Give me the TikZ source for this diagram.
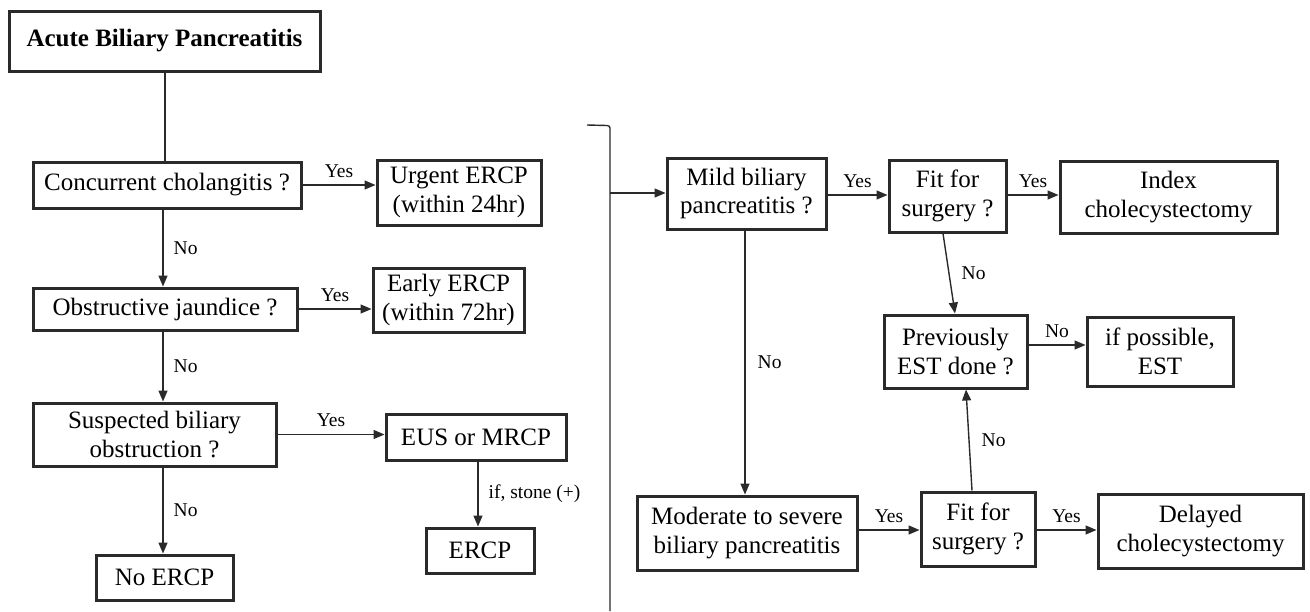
\documentclass[tikz,border=0pt]{standalone}
\usepackage{fontspec}
\setmainfont{Liberation Serif}
\usetikzlibrary{arrows.meta}
\definecolor{ink}{HTML}{2A2A2A}
\tikzset{
  x=1pt,y=-1pt,
  box/.style={draw=ink,line width=3pt,align=center,inner sep=0pt,
    font=\fontsize{25}{28.5}\selectfont},
  conn/.style={draw=ink,line width=1.4pt,-{Triangle[length=11pt,width=9pt]}},
  plain/.style={draw=ink,line width=1.4pt},
  lbl/.style={font=\fontsize{19.5}{22}\selectfont,inner sep=0pt},
}
\newcommand{\bx}[5]{\node[box,minimum width=#3pt,minimum height=#4pt] (#1) at (#2) {#5};}
\begin{document}
\begin{tikzpicture}
\useasboundingbox (0,0) rectangle (1310,611);
% left column
\bx{title}{164.5,41}{311}{60}{\textbf{Acute Biliary Pancreatitis}}
\bx{cc}{167,185}{268}{46}{Concurrent cholangitis ?}
\bx{urg}{459,192.5}{164}{65}{Urgent ERCP\\(within 24hr)}
\bx{oj}{165,309}{264}{42}{Obstructive jaundice ?}
\bx{early}{448.5,300}{151}{64}{Early ERCP\\(within 72hr)}
\bx{sbo}{154.5,434.5}{243}{63}{Suspected biliary\\obstruction ?}
\bx{eus}{476,437}{180}{46}{EUS or MRCP}
\bx{ercp}{480,550.5}{108}{45}{ERCP}
\bx{noercp}{164.5,577.5}{137}{45}{No ERCP}
% right part
\bx{mild}{746.5,193.5}{159}{71}{Mild biliary\\pancreatitis ?}
\bx{fit1}{947.5,196}{117}{72}{Fit for\\surgery ?}
\bx{index}{1168.5,197}{217}{72}{Index\\cholecystectomy}
\bx{prev}{955.5,351.5}{143}{73}{Previously\\EST done ?}
\bx{ifp}{1160,351.5}{146}{69}{if possible,\\EST}
\bx{mod}{747,533}{220}{74}{Moderate to severe\\biliary pancreatitis}
\bx{fit2}{978,529}{114}{74}{Fit for\\surgery ?}
\bx{delayed}{1200.5,531}{205}{74}{Delayed\\cholecystectomy}
% bracket
\coordinate (bt0) at (587,125);
\coordinate (bt) at (610,128);
\coordinate (bb) at (610,611);
\coordinate (bm) at (610,193);
\draw[plain] (bt0) -- (607,125.5) to[out=0,in=90] (bt) -- (bb);
% left connectors
\draw[plain] (title.south -| cc.north) ++(-2,0) coordinate (t1) -- (t1 |- cc.north);
\draw[conn] (cc.east) -- (cc.east -| urg.west) node[lbl,midway,above=7pt] {Yes};
\draw[conn] (cc.south -| 163,0) -- (oj.north -| 163,0) node[lbl,midway,right=10pt] {No};
\draw[conn] (oj.east) -- (oj.east -| early.west) node[lbl,midway,above=7pt] {Yes};
\draw[conn] (oj.south -| 163,0) -- (sbo.north -| 163,0) node[lbl,midway,right=10pt] {No};
\draw[conn] (sbo.east) -- (sbo.east -| eus.west) node[lbl,midway,above=7pt] {Yes};
\draw[conn] (eus.south -| 478,0) -- (ercp.north -| 478,0) node[lbl,midway,right=10pt] {if, stone (+)};
\draw[conn] (sbo.south -| 163,0) -- (noercp.north -| 163,0) node[lbl,midway,right=10pt] {No};
% right connectors
\draw[conn] (bm) -- (bm -| mild.west);
\draw[conn] (mild.east |- 0,195) -- (fit1.west |- 0,195) node[lbl,midway,above=7pt] {Yes};
\draw[conn] (fit1.east |- 0,195) -- (index.west |- 0,195) node[lbl,midway,above=7pt] {Yes};
\draw[conn] (fit1.south -| 943,0) -- (prev.north -| 955,0) node[lbl,midway,right=12pt] {No};
\draw[conn] (prev.east |- 0,345) -- (ifp.west |- 0,345) node[lbl,midway,above=7pt] {No};
\draw[conn] (mild.south -| 745,0) -- (mod.north -| 745,0) node[lbl,midway,right=12pt] {No};
\draw[conn] (mod.east |- 0,530) -- (fit2.west |- 0,530) node[lbl,midway,above=7pt] {Yes};
\draw[conn] (fit2.east |- 0,530) -- (delayed.west |- 0,530) node[lbl,midway,above=7pt] {Yes};
\draw[conn] (fit2.north -| 972,0) -- (prev.south -| 966,0) node[lbl,midway,right=12pt] {No};
\end{tikzpicture}
\end{document}
